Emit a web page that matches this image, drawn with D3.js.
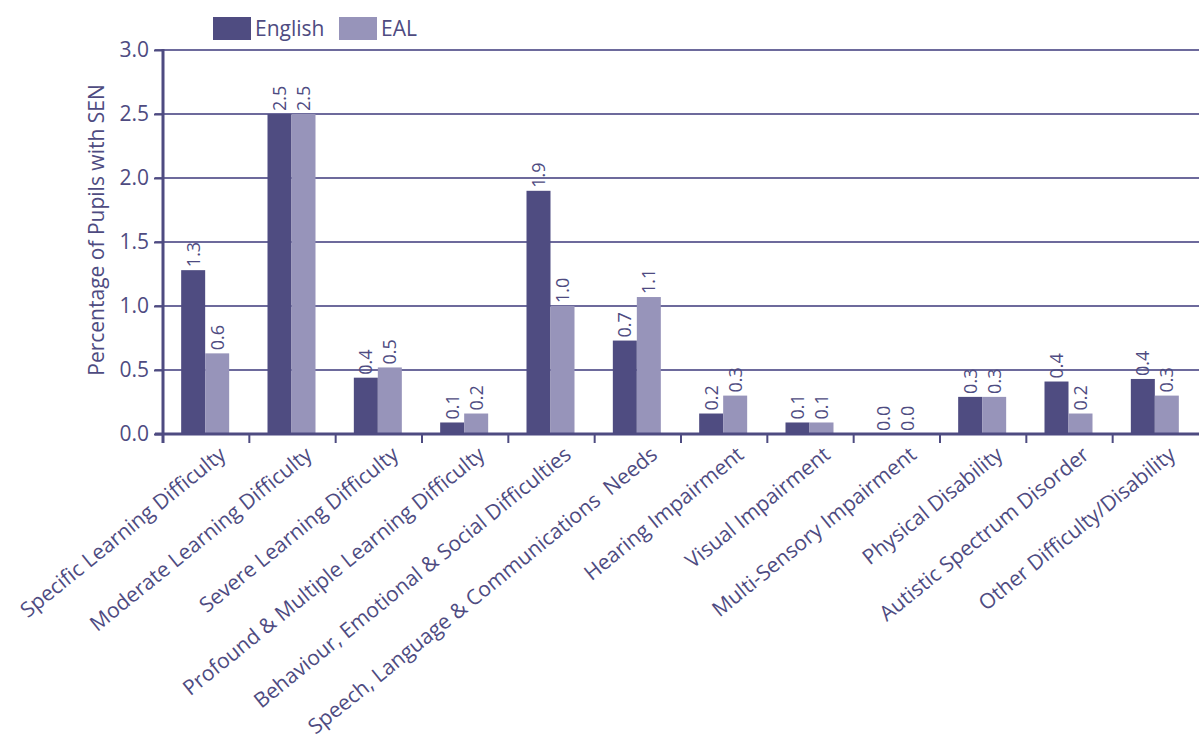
<!DOCTYPE html>
<html>
<head>
<meta charset="utf-8">
<script src="https://cdn.jsdelivr.net/npm/d3@7/dist/d3.min.js"></script>
<style>
  html, body { margin: 0; padding: 0; background: #ffffff; }
  svg { display: block; }
  text { font-family: "Open Sans", "Noto Sans", sans-serif; fill: #4e4b81; }
</style>
</head>
<body>
<svg id="chart" width="1199" height="740"></svg>
<script>
// SEN categories and percentages of pupils, by first language
const categories = [
  "Specific Learning Difficulty",
  "Moderate Learning Difficulty",
  "Severe Learning Difficulty",
  "Profound & Multiple Learning Difficulty",
  "Behaviour, Emotional & Social Difficulties",
  "Speech, Language & Communications  Needs",
  "Hearing Impairment",
  "Visual Impairment",
  "Multi-Sensory Impairment",
  "Physical Disability",
  "Autistic Spectrum Disorder",
  "Other Difficulty/Disability"
];
const seriesNames = ["English", "EAL"];
const english = [1.28, 2.50, 0.44, 0.09, 1.90, 0.73, 0.16, 0.09, 0.00, 0.29, 0.41, 0.43];
const eal     = [0.63, 2.50, 0.52, 0.16, 1.00, 1.07, 0.30, 0.09, 0.00, 0.29, 0.16, 0.30];
const yTicks = [0, 0.5, 1.0, 1.5, 2.0, 2.5, 3.0];
const yTitle = "Percentage of Pupils with SEN";

const colors = { English: "#4f4c81", EAL: "#9794ba" };
const ink = "#4e4b81";
const gridColor = "#6d6a9c";

const svg = d3.select("#chart");
const plotLeft = 163, plotRight = 1199, plotTop = 50, plotBottom = 434;

const x0 = d3.scaleBand().domain(categories).range([plotLeft, plotRight]).padding(0);
const bw = x0.bandwidth();
const barW = 24;
const x1 = d3.scaleBand().domain(seriesNames)
  .range([bw / 2 - barW - 1, bw / 2 + barW - 1]).padding(0);
const y = d3.scaleLinear().domain([0, 3]).range([plotBottom, plotTop]);

const rows = categories.map((c, i) => ({ cat: c, English: english[i], EAL: eal[i] }));

// horizontal gridlines
svg.append("g").selectAll("line").data(yTicks.filter(d => d > 0)).join("line")
  .attr("x1", plotLeft - 8).attr("x2", plotRight)
  .attr("y1", d => y(d)).attr("y2", d => y(d))
  .attr("stroke", gridColor).attr("stroke-width", 2);

// bars
const groups = svg.append("g").selectAll("g").data(rows).join("g")
  .attr("transform", d => `translate(${x0(d.cat)},0)`);

groups.selectAll("rect")
  .data(d => seriesNames.map(k => ({ key: k, value: d[k] })))
  .join("rect")
  .attr("x", d => x1(d.key))
  .attr("width", x1.bandwidth())
  .attr("y", d => y(d.value))
  .attr("height", d => y(0) - y(d.value))
  .attr("fill", d => colors[d.key]);

// value labels, rotated, above each bar
groups.selectAll("text")
  .data(d => seriesNames.map(k => ({ key: k, value: d[k] })))
  .join("text")
  .attr("transform", d => `translate(${x1(d.key) + x1.bandwidth() / 2},${y(d.value) - 3}) rotate(-90)`)
  .attr("dy", "0.36em")
  .attr("text-anchor", "start")
  .style("font-size", "18px")
  .text(d => d3.format(".1f")(d.value));

// y axis
const yAxis = d3.axisLeft(y).tickValues(yTicks).tickFormat(d3.format(".1f")).tickSize(9).tickPadding(5);
const gy = svg.append("g").attr("transform", `translate(${plotLeft},0)`).call(yAxis);
gy.select(".domain").remove();
gy.selectAll(".tick line").attr("stroke", ink).attr("stroke-width", 2);
gy.selectAll(".tick text").style("font-size", "21px").attr("fill", ink);
svg.append("line")
  .attr("x1", plotLeft).attr("x2", plotLeft).attr("y1", plotTop - 1).attr("y2", plotBottom + 9)
  .attr("stroke", ink).attr("stroke-width", 3);

// x axis baseline and category boundary ticks
svg.append("line")
  .attr("x1", plotLeft - 8).attr("x2", plotRight).attr("y1", plotBottom).attr("y2", plotBottom)
  .attr("stroke", ink).attr("stroke-width", 3);
const bounds = categories.map(c => x0(c) + bw).filter(v => v < plotRight - 1);
svg.append("g").selectAll("line").data(bounds).join("line")
  .attr("x1", d => d).attr("x2", d => d)
  .attr("y1", plotBottom).attr("y2", plotBottom + 9)
  .attr("stroke", ink).attr("stroke-width", 2);

// category labels
svg.append("g").selectAll("text").data(categories).join("text")
  .attr("transform", c => `translate(${x0(c) + bw / 2 + 21},${plotBottom + 23}) rotate(-39)`)
  .attr("text-anchor", "end")
  .style("font-size", "21px")
  .style("white-space", "pre")
  .text(c => c);

// y axis title
svg.append("text")
  .attr("transform", `translate(104,230) rotate(-90)`)
  .attr("text-anchor", "middle")
  .style("font-size", "21px")
  .text(yTitle);

// legend
const legend = svg.append("g");
const legendX = [213, 339];
seriesNames.forEach((k, i) => {
  legend.append("rect").attr("x", legendX[i]).attr("y", 17).attr("width", 38).attr("height", 23)
    .attr("fill", colors[k]);
  legend.append("text").attr("x", legendX[i] + 42).attr("y", 36)
    .style("font-size", "21px").text(k);
});
</script>
</body>
</html>
